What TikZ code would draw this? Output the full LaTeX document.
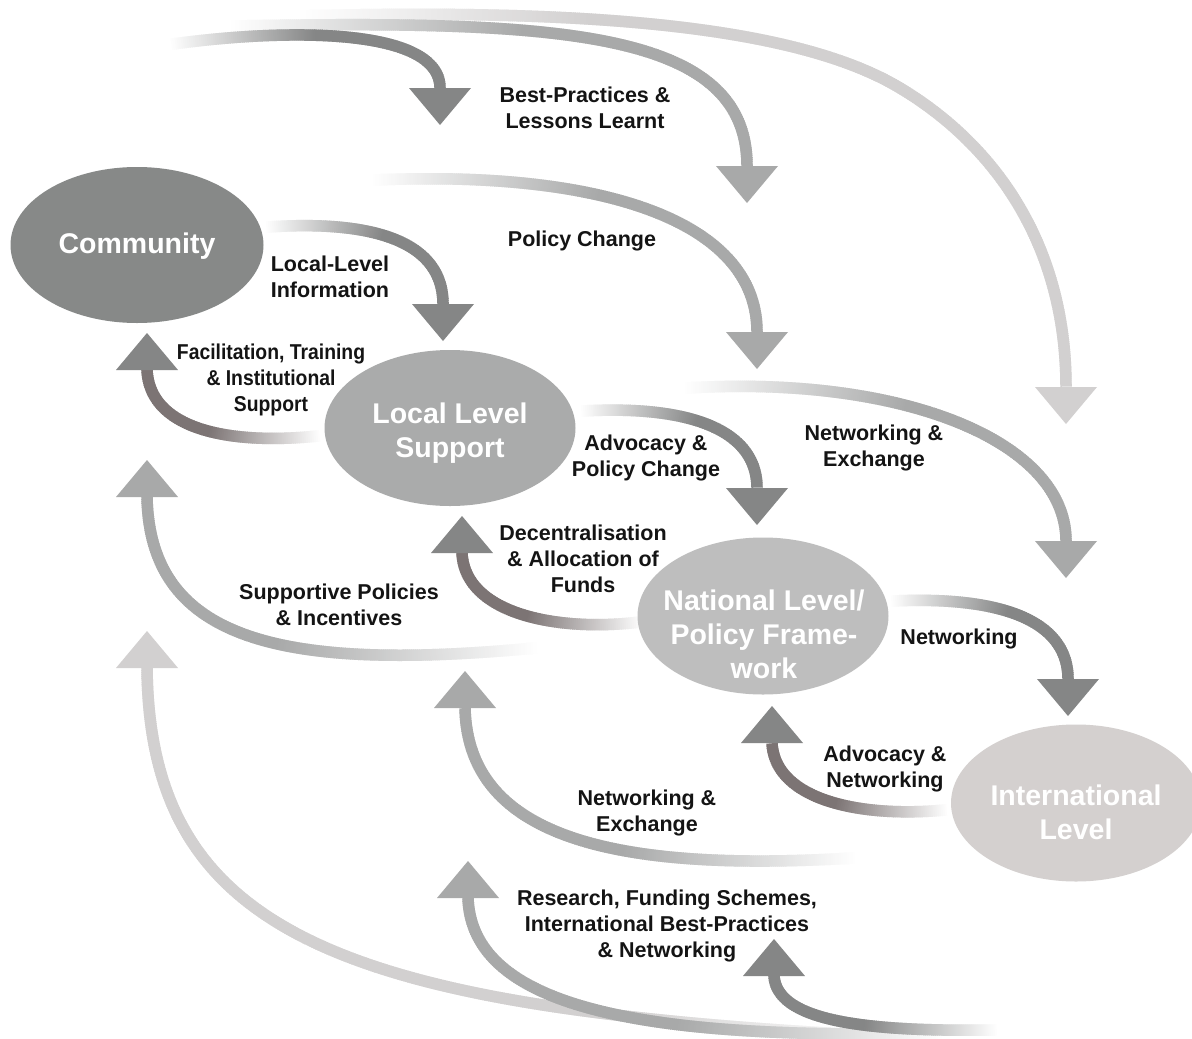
\documentclass[tikz,border=0pt]{standalone}
\usepackage{fontspec}
\setmainfont{Liberation Sans}
\usetikzlibrary{shapes.geometric,decorations.markings}
\definecolor{dk}{HTML}{858686}
\definecolor{md}{HTML}{A8A9A9}
\definecolor{lt}{HTML}{D2D0D0}
\definecolor{br}{HTML}{7C7474}
\definecolor{cComm}{HTML}{878988}
\definecolor{cLoc}{HTML}{AAABAB}
\definecolor{cNat}{HTML}{BEBEBE}
\definecolor{cInt}{HTML}{D4D0CF}
\definecolor{txt}{HTML}{141414}
\newcommand\headdn[2]{\fill[#2] (#1) ++(-31,0) -- ++(62,0) -- ++(-31,37) -- cycle;}
\newcommand\headup[2]{\fill[#2] (#1) ++(-31,0) -- ++(62,0) -- ++(-31,-37) -- cycle;}
\tikzset{
  grad/.style 2 args={
    decoration={markings,
      mark=between positions 0 and 1 step 2pt with {
        \pgfmathsetmacro\gfr{2*\pgfkeysvalueof{/pgf/decoration/mark info/sequence number}/\pgfdecoratedpathlength}
        \pgfmathsetmacro\gpc{min(100,100*\gfr/#2)}
        \fill[#1!\gpc!white] (-1.5pt,-5.75pt) rectangle (1.5pt,5.75pt);
      }},
    postaction=decorate},
  ellbox/.style={ellipse, inner sep=0pt, draw=none},
  elltext/.style={text=white, align=center, font=\fontsize{28.5}{34}\selectfont\bfseries},
  lab/.style={text=txt, align=center, font=\fontsize{21.5}{26}\selectfont\bfseries},
}
\begin{document}
\begin{tikzpicture}[x=1pt,y=-1pt]
\useasboundingbox (0,0) rectangle (1192,1039);
\fill[white] (0,0) rectangle (1192,1039);

% ---------- arrow end points ----------
\coordinate (t1s) at (173,44);   \coordinate (t1e) at (440,88);
\coordinate (t2s) at (233,26);   \coordinate (t2e) at (747,166);
\coordinate (t3s) at (300,16);   \coordinate (t3e) at (1066,387);
\coordinate (pcs) at (375,180);  \coordinate (pce) at (757,332);
\coordinate (lis) at (268,227);  \coordinate (lie) at (443,304);
\coordinate (fas) at (318,436);  \coordinate (fae) at (147,370);
\coordinate (sps) at (535,648);  \coordinate (spe) at (147,497);
\coordinate (des) at (640,622);  \coordinate (dee) at (462,553);
\coordinate (aps) at (583,411);  \coordinate (ape) at (757,488);
\coordinate (nxs) at (687,388);  \coordinate (nxe) at (1066,541);
\coordinate (nws) at (893,601);  \coordinate (nwe) at (1068,679);
\coordinate (ans) at (945,810);  \coordinate (ane) at (772,743);
\coordinate (nbs) at (853,858);  \coordinate (nbe) at (465,708);
\coordinate (rss) at (940,1033); \coordinate (rse) at (468,898);
\coordinate (bas) at (995,1030); \coordinate (bae) at (774,976);
\coordinate (bls) at (900,1037); \coordinate (ble) at (147,668);

% ---------- shafts ----------
\path[grad={lt}{0.3}] (t3s) .. controls (600,8) and (800,28) .. (900,88) .. controls (1000,148) and (1066,250) .. (t3e);
\path[grad={lt}{0.3}] (bls) .. controls (350,1010) and (150,940) .. (ble);
\path[grad={md}{0.5}] (t2s) .. controls (560,20) and (747,30) .. (t2e);
\path[grad={md}{0.5}] (pcs) .. controls (600,170) and (757,220) .. (pce);
\path[grad={md}{0.55}] (sps) .. controls (280,672) and (150,640) .. (spe);
\path[grad={md}{0.5}] (nxs) .. controls (900,375) and (1066,440) .. (nxe);
\path[grad={md}{0.5}] (nbs) .. controls (620,872) and (468,840) .. (nbe);
\path[grad={md}{0.5}] (rss) .. controls (650,1040) and (472,1010) .. (rse);
\path[grad={dk}{0.5}] (t1s) .. controls (290,28) and (440,28) .. (t1e);
\path[grad={dk}{0.55}] (lis) .. controls (370,220) and (443,240) .. (lie);
\path[grad={br}{0.55}] (fas) .. controls (230,445) and (150,430) .. (fae);
\path[grad={br}{0.55}] (des) .. controls (560,632) and (465,615) .. (dee);
\path[grad={dk}{0.55}] (aps) .. controls (690,405) and (757,430) .. (ape);
\path[grad={dk}{0.55}] (nws) .. controls (1000,596) and (1068,620) .. (nwe);
\path[grad={br}{0.55}] (ans) .. controls (860,818) and (775,800) .. (ane);
\path[grad={dk}{0.55}] (bas) .. controls (860,1032) and (777,1020) .. (bae);

% ---------- heads ----------
\headdn{t1e}{dk}
\headdn{t2e}{md}
\headdn{t3e}{lt}
\headdn{pce}{md}
\headdn{lie}{dk}
\headup{fae}{dk}
\headup{spe}{md}
\headup{dee}{dk}
\headdn{ape}{dk}
\headdn{nxe}{md}
\headdn{nwe}{dk}
\headup{ane}{dk}
\headup{nbe}{md}
\headup{rse}{md}
\headup{bae}{dk}
\headup{ble}{lt}

% ---------- ellipses ----------
\node[ellbox, fill=cComm, minimum width=253pt, minimum height=156pt] (comm) at (137,245) {};
\node[ellbox, fill=cLoc, minimum width=251pt, minimum height=156pt] (loc) at (450,428) {};
\node[ellbox, fill=cNat, minimum width=251pt, minimum height=157pt] (nat) at (763,616) {};
\node[ellbox, fill=cInt, minimum width=250pt, minimum height=157pt] (int) at (1076,803) {};

\node[elltext] (commt) at (137,246) {Community};
\node[elltext] (loct) at (450,433) {Local Level\\Support};
\node[elltext] (natt) at (764,634) {National Level/\\Policy Frame-\\work};
\node[elltext] (intt) at (1076,812) {International\\Level};

% ---------- labels ----------
\node[lab] (lbp) at (585,108) {Best-Practices \&\\Lessons Learnt};
\node[lab] (lpc) at (582,241) {Policy Change};
\node[lab] (lli) at (330,277) {Local-Level\\Information};
\node[lab] (lfac) at (271,380) {\scalebox{0.9}[1]{\begin{tabular}{@{}c@{}}Facilitation, Training\\\& Institutional\\Support\end{tabular}}};
\node[lab] (lapc) at (646,458) {Advocacy \&\\Policy Change};
\node[lab] (lnet1) at (874,448) {Networking \&\\Exchange};
\node[lab] (ldec) at (583,559) {Decentralisation\\\& Allocation of\\Funds};
\node[lab] (lsup) at (339,605) {Supportive Policies\\\& Incentives};
\node[lab] (lnw) at (959,639) {Networking};
\node[lab] (lan) at (885,769) {Advocacy \&\\Networking};
\node[lab] (lnet2) at (647,813) {Networking \&\\Exchange};
\node[lab] (lres) at (667,926) {Research, Funding Schemes,\\International Best-Practices\\\& Networking};
\end{tikzpicture}
\end{document}
